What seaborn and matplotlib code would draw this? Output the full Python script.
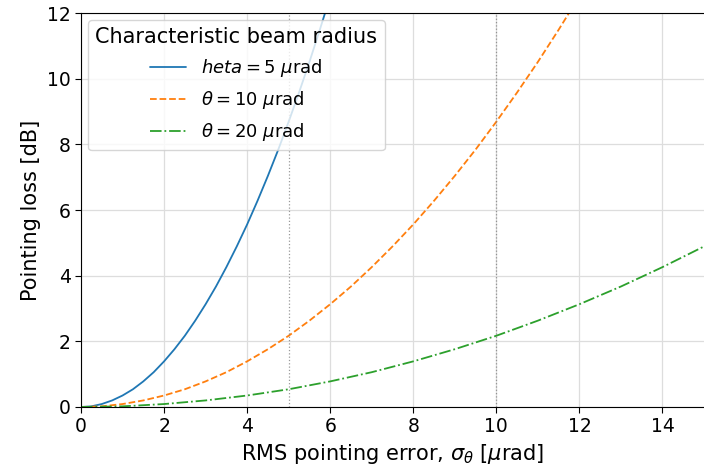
import numpy as np
import pandas as pd
import matplotlib
matplotlib.use("Agg")
import matplotlib.pyplot as plt
import seaborn as sns

# values (pointing loss in dB vs RMS error in urad)
sigma_5 = [0, 0.25, 0.5, 0.75, 1, 1.25, 1.5, 1.75, 2, 2.25, 2.5, 2.75, 3,
           3.25, 3.5, 3.75, 4, 4.25, 4.5, 4.75, 5, 5.25, 5.5, 5.75, 6]
loss_5 = [0, 0.02, 0.09, 0.2, 0.35, 0.54, 0.78, 1.06, 1.39, 1.76, 2.17, 2.63,
          3.13, 3.67, 4.26, 4.89, 5.56, 6.28, 7.04, 7.84, 8.69, 9.58, 10.51,
          11.49, 12.5]

sigma_10 = [0, 0.5, 1, 1.5, 2, 2.5, 3, 3.5, 4, 4.5, 5, 5.5, 6, 6.5, 7, 7.5, 8,
            8.5, 9, 9.5, 10, 10.5, 11, 11.5, 12]
loss_10 = [0, 0.02, 0.09, 0.2, 0.35, 0.54, 0.78, 1.06, 1.39, 1.76, 2.17, 2.63,
           3.13, 3.67, 4.26, 4.89, 5.56, 6.28, 7.04, 7.84, 8.69, 9.58, 10.51,
           11.49, 12.51]

sigma_20 = [0, 1, 2, 3, 4, 5, 6, 7, 8, 9, 10, 11, 12, 13, 14, 15]
loss_20 = [0, 0.02, 0.09, 0.2, 0.35, 0.54, 0.78, 1.06, 1.39, 1.76, 2.17, 2.63,
           3.13, 3.67, 4.26, 4.89]

labels = [r"$heta = 5\ \mu$rad", r"$\theta = 10\ \mu$rad", r"$\theta = 20\ \mu$rad"]
colors = ["#1f77b4", "#ff7f0e", "#2ca02c"]
styles = ["-", "--", "-."]
marks = [5, 10]

sns.set_style("ticks")
plt.rcParams["font.family"] = ["DejaVu Sans"]
plt.rcParams.update({"text.color": "black", "axes.labelcolor": "black",
                     "xtick.color": "black", "ytick.color": "black"})

fig = plt.figure(figsize=(7.04, 4.70), dpi=100)
ax = fig.add_axes([81 / 704, 63 / 470, 623 / 704, 394 / 470])

curves = [(sigma_5, loss_5), (sigma_10, loss_10), (sigma_20, loss_20)]
for (s, l), lab, c, ls in zip(curves, labels, colors, styles):
    df = pd.DataFrame({"sigma": s, "loss": l})
    sns.lineplot(data=df, x="sigma", y="loss", ax=ax, color=c, linestyle=ls,
                 linewidth=1.3, label=lab)

for m in marks:
    ax.axvline(m, color="gray", linestyle=":", linewidth=0.9, alpha=0.8)

ax.set_xlim(0, 15)
ax.set_ylim(0, 12)
ax.set_xticks(np.arange(0, 15, 2))
ax.set_yticks(np.arange(0, 13, 2))
ax.grid(True, color="#dddddd", linewidth=0.9)
ax.set_axisbelow(True)
ax.tick_params(labelsize=13.5, direction="out", length=4, color="black")
for sp in ax.spines.values():
    sp.set_visible(True)
    sp.set_color("black")
ax.spines["right"].set_visible(False)

ax.set_xlabel(r"RMS pointing error, $\sigma_\theta$ [$\mu$rad]", fontsize=15)
ax.set_ylabel("Pointing loss [dB]", fontsize=15)

leg = ax.legend(title="Characteristic beam radius", loc="upper left",
                fontsize=13, title_fontsize=15, framealpha=0.8,
                borderaxespad=0.4, labelspacing=0.55)

fig.savefig("out.png", dpi=100)
